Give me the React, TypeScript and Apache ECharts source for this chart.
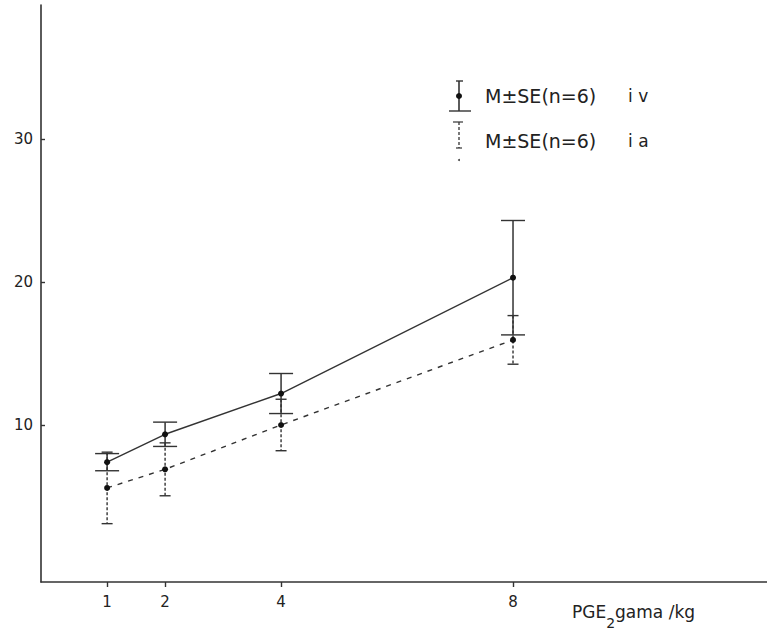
import React, { useEffect, useRef } from "react";
import * as echarts from "echarts";

// Doses (PGE2 gamma/kg)
const doses = [1, 2, 4, 8];
// i.v. group: mean and standard error
const ivMean = [7.4, 9.35, 12.2, 20.3];
const ivSE = [0.6, 0.85, 1.4, 4.0];
// i.a. group: mean and standard error
const iaMean = [5.6, 6.9, 10.0, 15.95];
const iaSE = [2.5, 1.85, 1.8, 1.7];
// tick labels
const xTicks = [1, 2, 4, 8];
const yTicks = [10, 20, 30];
const legendLabels = ["M±SE(n=6)", "M±SE(n=6)"];
const legendRoutes = ["i v", "i a"];

const FONT = "DejaVu Sans";
const INK = "#222";
const LINE = "#333";

function makeErrorRender(capW: number, dash: number[] | null, lw: number) {
  return (params: any, api: any) => {
    const x = api.value(0);
    const lo = api.value(1);
    const hi = api.value(2);
    const top = api.coord([x, hi]);
    const bot = api.coord([x, lo]);
    const vStyle: any = { stroke: LINE, lineWidth: lw, fill: "none" };
    if (dash) vStyle.lineDash = dash;
    const cStyle: any = { stroke: LINE, lineWidth: 1.4, fill: "none" };
    return {
      type: "group",
      children: [
        { type: "line", shape: { x1: top[0], y1: top[1], x2: bot[0], y2: bot[1] }, style: vStyle },
        { type: "line", shape: { x1: top[0] - capW / 2, y1: top[1], x2: top[0] + capW / 2, y2: top[1] }, style: cStyle },
        { type: "line", shape: { x1: bot[0] - capW / 2, y1: bot[1], x2: bot[0] + capW / 2, y2: bot[1] }, style: cStyle },
      ],
    };
  };
}

export default function App() {
  const ref = useRef<HTMLDivElement>(null);
  useEffect(() => {
    document.body.style.margin = "0";
    if (!ref.current) return;
    const chart = echarts.init(ref.current, undefined, { renderer: "svg" });
    const ivData = doses.map((d, i) => [d, ivMean[i]]);
    const iaData = doses.map((d, i) => [d, iaMean[i]]);
    const ivErr = doses.map((d, i) => [d, ivMean[i] - ivSE[i], ivMean[i] + ivSE[i]]);
    const iaErr = doses.map((d, i) => [d, iaMean[i] - iaSE[i], iaMean[i] + iaSE[i]]);

    chart.setOption({
      animation: false,
      backgroundColor: "#fff",
      grid: { left: 41, right: 0, top: 5, bottom: 54, containLabel: false },
      xAxis: {
        type: "value",
        min: -0.14,
        max: 12.38,
        axisLine: { show: true, onZero: false, lineStyle: { color: LINE, width: 1.6 } },
        axisTick: { show: true, length: 5, customValues: xTicks, lineStyle: { color: LINE, width: 1.4 } },
        axisLabel: {
          show: true,
          customValues: xTicks,
          margin: 12,
          color: INK,
          fontFamily: FONT,
          fontSize: 15,
        },
        splitLine: { show: false },
      },
      yAxis: {
        type: "value",
        min: -0.98,
        max: 39.37,
        axisLine: { show: true, onZero: false, lineStyle: { color: LINE, width: 1.6 } },
        axisTick: { show: true, inside: true, length: 4, customValues: yTicks, lineStyle: { color: LINE, width: 1.4 } },
        axisLabel: {
          show: true,
          customValues: yTicks,
          margin: 8,
          color: INK,
          fontFamily: FONT,
          fontSize: 15,
        },
        splitLine: { show: false },
      },
      series: [
        {
          type: "custom",
          name: "iv SE",
          data: ivErr,
          renderItem: makeErrorRender(24, null, 1.5),
          z: 2,
        },
        {
          type: "custom",
          name: "ia SE",
          data: iaErr,
          renderItem: makeErrorRender(11, [3, 2], 1.4),
          z: 2,
        },
        {
          type: "line",
          name: "iv",
          data: ivData,
          symbol: "circle",
          symbolSize: 6,
          itemStyle: { color: "#111" },
          lineStyle: { color: LINE, width: 1.4, type: "solid" },
          z: 3,
        },
        {
          type: "line",
          name: "ia",
          data: iaData,
          symbol: "circle",
          symbolSize: 6,
          itemStyle: { color: "#111" },
          lineStyle: { color: LINE, width: 1.4, type: [5, 6] },
          z: 3,
        },
      ],
      graphic: [
        // legend symbol 1 (i.v.)
        { type: "line", shape: { x1: 459, y1: 81, x2: 459, y2: 111 }, style: { stroke: LINE, lineWidth: 1.6 } },
        { type: "line", shape: { x1: 456, y1: 81, x2: 463, y2: 81 }, style: { stroke: LINE, lineWidth: 1.4 } },
        { type: "line", shape: { x1: 449, y1: 111, x2: 471, y2: 111 }, style: { stroke: LINE, lineWidth: 1.4 } },
        { type: "circle", shape: { cx: 459, cy: 96, r: 3 }, style: { fill: "#111" } },
        // legend symbol 2 (i.a.)
        { type: "line", shape: { x1: 453, y1: 122, x2: 463, y2: 122 }, style: { stroke: LINE, lineWidth: 1.2 } },
        { type: "line", shape: { x1: 459, y1: 122, x2: 459, y2: 148 }, style: { stroke: LINE, lineWidth: 1.3, lineDash: [3, 2] } },
        { type: "line", shape: { x1: 456, y1: 148, x2: 462, y2: 148 }, style: { stroke: LINE, lineWidth: 1.2 } },
        { type: "circle", shape: { cx: 459, cy: 160, r: 1 }, style: { fill: "#444" } },
        // legend texts
        {
          type: "text",
          x: 485,
          y: 96,
          style: { text: legendLabels[0], fontFamily: FONT, fontSize: 19, fill: INK, verticalAlign: "middle" },
        },
        {
          type: "text",
          x: 628,
          y: 96,
          style: { text: legendRoutes[0], fontFamily: FONT, fontSize: 17, fill: INK, verticalAlign: "middle" },
        },
        {
          type: "text",
          x: 485,
          y: 141,
          style: { text: legendLabels[1], fontFamily: FONT, fontSize: 19, fill: INK, verticalAlign: "middle" },
        },
        {
          type: "text",
          x: 628,
          y: 141,
          style: { text: legendRoutes[1], fontFamily: FONT, fontSize: 17, fill: INK, verticalAlign: "middle" },
        },
        // x-axis title
        {
          type: "text",
          x: 572,
          y: 612,
          style: {
            text: "PGE{sub|2}gama /kg",
            fontFamily: FONT,
            fontSize: 17,
            fill: INK,
            verticalAlign: "middle",
            rich: {
              sub: { fontFamily: FONT, fontSize: 14, fill: INK, padding: [22, 0, 0, 0] },
            },
          },
        },
      ],
    });
    return () => chart.dispose();
  }, []);
  return <div ref={ref} style={{ width: 767, height: 636 }} />;
}
